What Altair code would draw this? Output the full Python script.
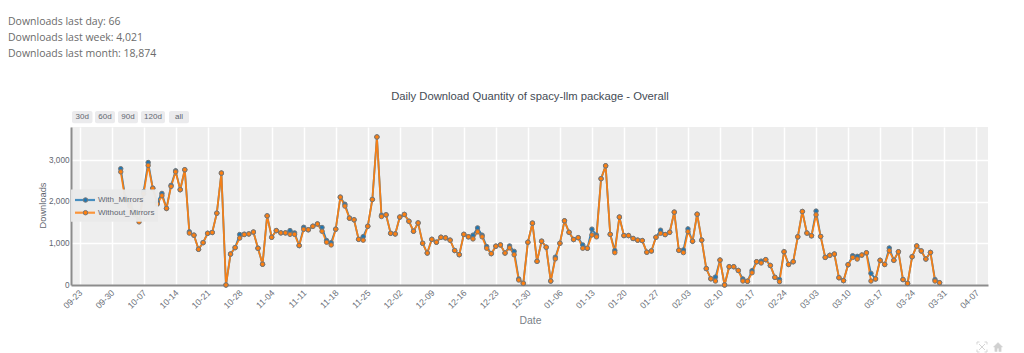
import altair as alt
import pandas as pd

start = "2024-10-02"
with_mirrors = [2800, 2100, 1950, 1750, 1550, 2250, 2950, 2330, 2000, 2205, 1845, 2400, 2750, 2295, 2775,
    1280, 1200, 860, 1020, 1245, 1265, 1730, 2695, 0, 745, 900, 1215, 1225, 1230, 1275, 885, 500, 1665, 1150, 1310,
    1255, 1255, 1310, 1255, 950, 1390, 1330, 1415, 1470, 1385, 1070, 1020, 1345, 2115, 1945, 1610, 1570, 1100, 1165,
    1415, 2060, 3565, 1680, 1690, 1245, 1230, 1635, 1700, 1535, 1295, 1495, 1005, 770, 1100, 1030, 1150, 1135, 1080,
    830, 730, 1220, 1160, 1200, 1375, 1200, 925, 755, 935, 965, 770, 940, 810, 145, 40, 1030, 1490, 570, 1055, 910,
    95, 670, 1005, 1545, 1270, 1095, 1140, 965, 885, 1345, 1200, 2560, 2870, 1220, 830, 1635, 1190, 1190, 1120, 1080,
    1070, 790, 820, 1150, 1320, 1215, 1270, 1755, 835, 845, 1350, 1055, 1705, 1080, 395, 150, 190, 600, 0, 440, 440,
    350, 145, 90, 345, 560, 575, 610, 470, 185, 135, 800, 495, 560, 1160, 1770, 1250, 1185, 1780, 1170, 665, 715, 745,
    175, 105, 490, 705, 690, 720, 775, 280, 145, 595, 495, 890, 595, 800, 130, 40, 680, 940, 820, 625, 785, 130, 55]
without_mirrors = [2725, 2050, 1900, 1700, 1520, 2200, 2880, 2330, 1950, 2150, 1845, 2375, 2725, 2295, 2775,
    1250, 1200, 860, 1020, 1245, 1265, 1730, 2695, 0, 745, 900, 1130, 1215, 1230, 1275, 885, 500, 1665, 1150, 1310,
    1255, 1255, 1220, 1220, 950, 1340, 1330, 1415, 1470, 1295, 1030, 965, 1345, 2115, 1900, 1610, 1570, 1100, 1080,
    1415, 2060, 3565, 1650, 1690, 1245, 1230, 1635, 1700, 1535, 1295, 1495, 1005, 770, 1100, 1030, 1150, 1135, 1080,
    830, 730, 1220, 1160, 1110, 1280, 1160, 885, 755, 935, 965, 770, 895, 730, 120, 40, 1030, 1490, 570, 1055, 910,
    95, 630, 1005, 1545, 1270, 1095, 1140, 885, 885, 1205, 1160, 2560, 2870, 1220, 780, 1635, 1190, 1190, 1120, 1080,
    1070, 790, 820, 1150, 1245, 1215, 1270, 1755, 835, 780, 1285, 1055, 1705, 1080, 395, 150, 95, 600, 0, 440, 440,
    350, 95, 90, 295, 560, 530, 610, 470, 185, 80, 800, 495, 560, 1160, 1770, 1250, 1185, 1690, 1170, 665, 715, 745,
    175, 105, 490, 665, 625, 720, 775, 95, 145, 595, 495, 825, 595, 800, 130, 40, 680, 940, 820, 625, 785, 95, 55]
tick_dates = pd.date_range("2024-09-23", "2025-04-07", freq="7D").strftime("%Y-%m-%dT00:00:00").tolist()
y_ticks = [0, 1000, 2000, 3000]
series_names = ["With_Mirrors", "Without_Mirrors"]
series_colors = ["#1f77b4", "#ff7f0e"]
header_lines = ["Downloads last day: 66", "Downloads last week: 4,021", "Downloads last month: 18,874"]
chart_title = "Daily Download Quantity of spacy-llm package - Overall"
buttons = ["30d", "60d", "90d", "120d", "all"]

n = min(len(with_mirrors), len(without_mirrors))
dates = pd.date_range(start, periods=n, freq="D").strftime("%Y-%m-%dT00:00:00")
df = pd.concat([
    pd.DataFrame({"Date": dates, "Downloads": with_mirrors[:n], "Series": series_names[0]}),
    pd.DataFrame({"Date": dates, "Downloads": without_mirrors[:n], "Series": series_names[1]}),
])

W, H = 917, 158
AX = "Liberation Sans"
GREY = "#5f6670"
x = alt.X("Date:T", scale=alt.Scale(domain=["2024-09-21T03:00:00", "2025-04-09T14:00:00"]),
          axis=alt.Axis(values=tick_dates, format="%m-%d", labelAngle=-45, labelAlign="right", labelBaseline="top",
                        title="Date", titleFont=AX, titleFontSize=10.4, titleFontWeight="normal",
                        titleColor="#7a7f88", titleX=459, titleY=30, labelFont=AX, labelFontSize=8.8,
                        labelColor="#6a6f78", labelPadding=3, labelOffset=-2, tickSize=0, gridColor="white",
                        gridWidth=1.5, domainColor="#8c8c8c", domainWidth=2, labelOverlap=False, labelFlush=False,
                        zindex=0))
y = alt.Y("Downloads:Q", scale=alt.Scale(domain=[0, 3805], nice=False),
          axis=alt.Axis(values=y_ticks, format=",.0f", title="Downloads", titleFont=AX, titleFontSize=9.3,
                        titleFontWeight="normal", titleColor=GREY, titleX=-24, titleY=78, labelFont=AX,
                        labelFontSize=8.2, labelColor=GREY, labelPadding=2, tickSize=0, gridColor="white",
                        gridWidth=1.5, domainColor="#8c8c8c", domainWidth=2))
cscale = alt.Scale(domain=series_names, range=series_colors)

layers = [
    alt.Chart(df).mark_line(strokeWidth=1.8, opacity=0.95).encode(
        x=x, y=y, color=alt.Color("Series:N", scale=cscale, legend=None)),
    alt.Chart(df).mark_point(filled=True, size=20, stroke="#777777", strokeWidth=1, opacity=1).encode(
        x=x, y=y, fill=alt.Fill("Series:N", scale=cscale, legend=None)),
]

one = pd.DataFrame({"a": [0]})


def deco():
    return alt.Chart(one)


# legend
layers.append(deco().mark_rect(color="#e9e9e9", opacity=0.96).encode(
    x=alt.value(0), x2=alt.value(87), y=alt.value(62.5), y2=alt.value(94.7)))
for name, col, ry in zip(series_names, series_colors, [73, 85.7]):
    layers.append(deco().mark_rule(strokeWidth=2.2, color=col, opacity=0.8).encode(
        x=alt.value(4), x2=alt.value(24), y=alt.value(ry)))
    layers.append(deco().mark_point(filled=True, size=20, fill=col, stroke="#777777", strokeWidth=1, opacity=1).encode(
        x=alt.value(14.5), y=alt.value(ry)))
    layers.append(deco().mark_text(text=name, align="left", baseline="middle", font=AX, fontSize=8, color=GREY).encode(
        x=alt.value(27), y=alt.value(ry)))

# range-selector buttons
for label, bl, bw in zip(buttons, [1, 24, 47, 70, 98], [20.5, 20, 20, 24, 20]):
    layers.append(deco().mark_rect(color="#ebebed", cornerRadius=2).encode(
        x=alt.value(bl), x2=alt.value(bl + bw), y=alt.value(-16), y2=alt.value(-3.7)))
    layers.append(deco().mark_text(text=label, font=AX, fontSize=8, color=GREY, baseline="middle").encode(
        x=alt.value(bl + bw / 2), y=alt.value(-10)))

# header lines and title
for line_text, ly in zip(header_lines, [-105.5, -89.3, -73]):
    layers.append(deco().mark_text(text=line_text, align="left", baseline="middle", font="Open Sans", fontSize=10.5,
                                   color="#6b6b6b").encode(x=alt.value(-63), y=alt.value(ly)))
layers.append(deco().mark_text(text=chart_title, font=AX, fontSize=11.25, color="#444b55", baseline="middle").encode(
    x=alt.value(459), y=alt.value(-30.5)))

# modebar icons
autoscale = "M-1,-1L-0.5,-1M-1,-1L-1,-0.5M1,-1L0.5,-1M1,-1L1,-0.5M-1,1L-0.5,1M-1,1L-1,0.5M1,1L0.5,1M1,1L1,0.5M-0.6,-0.6L0.6,0.6M0.6,-0.6L-0.6,0.6"
home = "M0,-1L1,0L0.7,0L0.7,1L0.2,1L0.2,0.3L-0.2,0.3L-0.2,1L-0.7,1L-0.7,0L-1,0Z"
layers.append(deco().mark_point(shape=autoscale, size=100, stroke="#d5d5d5", strokeWidth=1, filled=False, opacity=1).encode(
    x=alt.value(911), y=alt.value(220)))
layers.append(deco().mark_point(shape=home, size=81, fill="#d0d0d0", stroke="#d0d0d0", strokeWidth=0.5, filled=True, opacity=1).encode(
    x=alt.value(927), y=alt.value(220)))

chart = alt.layer(*layers).properties(
    width=W, height=H, autosize=alt.AutoSizeParams(type="none"),
    padding={"left": 63, "top": 119, "right": 20, "bottom": 68}, background="white"
).configure_view(fill="#eeeeee", stroke=None)

chart.save("out.html", embed_options={"renderer": "svg", "actions": False})
